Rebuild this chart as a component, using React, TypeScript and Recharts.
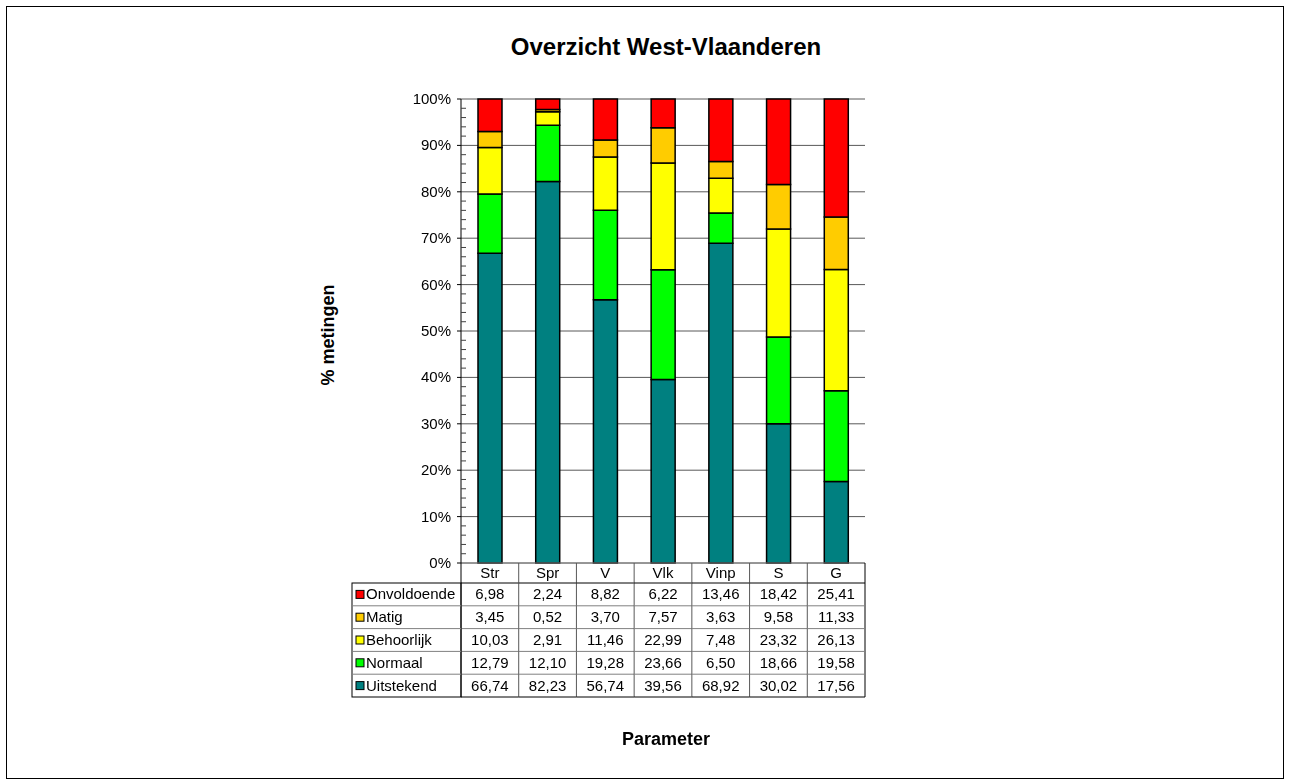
import { BarChart, Bar, XAxis, YAxis, CartesianGrid } from 'recharts';

const categories = ['Str', 'Spr', 'V', 'Vlk', 'Vinp', 'S', 'G'];
const onvoldoende = [6.98, 2.24, 8.82, 6.22, 13.46, 18.42, 25.41];
const matig = [3.45, 0.52, 3.7, 7.57, 3.63, 9.58, 11.33];
const behoorlijk = [10.03, 2.91, 11.46, 22.99, 7.48, 23.32, 26.13];
const normaal = [12.79, 12.1, 19.28, 23.66, 6.5, 18.66, 19.58];
const uitstekend = [66.74, 82.23, 56.74, 39.56, 68.92, 30.02, 17.56];
const yTicks = [0, 0.1, 0.2, 0.3, 0.4, 0.5, 0.6, 0.7, 0.8, 0.9, 1];
const minorTicks = Array.from({ length: 51 }, (_, i) => i / 50);

// table / legend order (top to bottom)
const series = [
  { key: 'Onvoldoende', values: onvoldoende, color: '#FF0000' },
  { key: 'Matig', values: matig, color: '#FFCC00' },
  { key: 'Behoorlijk', values: behoorlijk, color: '#FFFF00' },
  { key: 'Normaal', values: normaal, color: '#00FF00' },
  { key: 'Uitstekend', values: uitstekend, color: '#008080' },
];

const data = categories.map((c, i) => {
  const row: any = { name: c };
  series.forEach((s) => (row[s.key] = s.values[i]));
  return row;
});

const FONT = '"Liberation Sans", Arial, sans-serif';
const PLOT_W = 404;
const BW = PLOT_W / categories.length;
const HEADER_H = 20;
const ROW_H = 22.8;
const FS = 15;
const fmt = (v: number) => v.toFixed(2).replace('.', ',');

function YTick(props: any) {
  const { x, y, payload } = props;
  const v = payload.value;
  const pct = Math.round(v * 100);
  if (pct % 10 === 0) {
    return (
      <g>
        <line x1={x - 4} x2={x} y1={y} y2={y} stroke="#000" />
        <text x={x - 10} y={y + 5} textAnchor="end" fill="#000" style={{ fontFamily: FONT, fontSize: FS }}>
          {pct}%
        </text>
      </g>
    );
  }
  return <line x1={x} x2={x + 5} y1={y} y2={y} stroke="#404040" />;
}

function TableTick(props: any) {
  const { x, y, payload, index } = props;
  const i = payload?.index ?? index;
  const left = x - BW / 2;
  const right = x + BW / 2;
  const bottom = y + HEADER_H + ROW_H * series.length;
  const legW = 109;
  return (
    <g style={{ fontFamily: FONT, fontSize: FS }}>
      <text x={x} y={y + 15} textAnchor="middle" fill="#000">
        {categories[i]}
      </text>
      <line x1={left} x2={left} y1={y} y2={bottom} stroke={i === 0 ? '#000' : '#595959'} />
      {i === categories.length - 1 && <line x1={right} x2={right} y1={y} y2={bottom} stroke="#000" />}
      {series.map((s, r) => {
        const top = y + HEADER_H + r * ROW_H;
        return (
          <g key={s.key}>
            <line x1={left} x2={right} y1={top} y2={top} stroke={r === 0 ? '#000' : '#808080'} />
            <text x={x} y={top + ROW_H / 2 + 5} textAnchor="middle" fill="#000">
              {fmt(s.values[i])}
            </text>
          </g>
        );
      })}
      <line x1={left} x2={right} y1={bottom} y2={bottom} stroke="#000" />
      {i === 0 && (
        <g>
          <rect x={left - legW} y={y + HEADER_H} width={legW} height={ROW_H * series.length} fill="none" stroke="#000" />
          {series.map((s, r) => {
            const top = y + HEADER_H + r * ROW_H;
            return (
              <g key={s.key}>
                {r > 0 && <line x1={left - legW} x2={left} y1={top} y2={top} stroke="#808080" />}
                <rect x={left - legW + 4} y={top + ROW_H / 2 - 4} width={8} height={8} fill={s.color} stroke="#000" />
                <text x={left - legW + 14} y={top + ROW_H / 2 + 5} fill="#000">
                  {s.key}
                </text>
              </g>
            );
          })}
        </g>
      )}
    </g>
  );
}

export default function App() {
  return (
    <div style={{ position: 'fixed', left: 0, top: 0, width: 1289, height: 783, background: '#fff', fontFamily: FONT }}>
      <div style={{ position: 'absolute', left: 6, top: 6, width: 1276, height: 771, border: '1px solid #000' }} />
      <div style={{ position: 'absolute', left: 0, width: 1332, top: 33, textAlign: 'center', fontSize: 24, fontWeight: 'bold' }}>
        Overzicht West-Vlaanderen
      </div>
      <div
        style={{
          position: 'absolute',
          left: 328,
          top: 335,
          transform: 'translate(-50%, -50%) rotate(-90deg)',
          fontSize: 18,
          fontWeight: 'bold',
          whiteSpace: 'nowrap',
        }}
      >
        % metingen
      </div>
      <div style={{ position: 'absolute', left: 0, width: 1332, top: 729, textAlign: 'center', fontSize: 18, fontWeight: 'bold' }}>
        Parameter
      </div>
      <div style={{ position: 'absolute', left: 0, top: 0 }}>
        <BarChart
          width={1289}
          height={783}
          data={data}
          stackOffset="expand"
          margin={{ top: 99, left: 401, right: 424, bottom: 86 }}
        >
          <CartesianGrid vertical={false} stroke="#595959" yAxisId="right" />
          <XAxis
            dataKey="name"
            height={134}
            interval={0}
            tickLine={false}
            tickSize={0}
            tickMargin={0}
            axisLine={{ stroke: '#808080' }}
            tick={<TableTick />}
          />
          <YAxis
            width={60}
            domain={[0, 1]}
            ticks={minorTicks}
            interval={0}
            tickSize={0}
            tickMargin={0}
            tickLine={false}
            axisLine={{ stroke: '#000' }}
            tick={<YTick />}
          />
          <YAxis
            yAxisId="right"
            orientation="right"
            width={0}
            domain={[0, 1]}
            ticks={yTicks}
            interval={0}
            tick={() => <g />}
            tickLine={false}
            axisLine={{ stroke: '#808080' }}
          />
          {[...series].reverse().map((s) => (
            <Bar
              key={s.key}
              dataKey={s.key}
              stackId="a"
              fill={s.color}
              stroke="#000"
              strokeWidth={1.5}
              barSize={24}
              isAnimationActive={false}
            />
          ))}
        </BarChart>
      </div>
    </div>
  );
}
